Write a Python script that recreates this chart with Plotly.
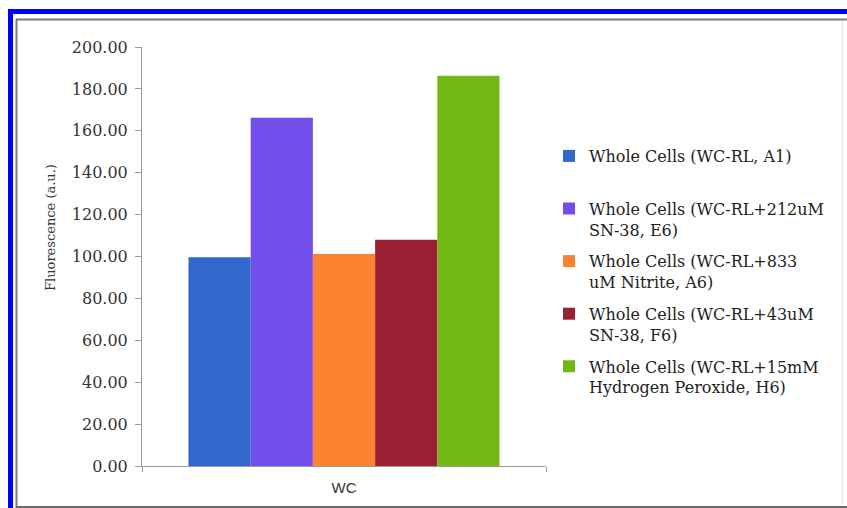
import plotly.graph_objects as go

# Chart data
categories = ["WC"]
series_names = [
    "Whole Cells (WC-RL, A1)<br> ",
    "Whole Cells (WC-RL+212uM<br>SN-38, E6)",
    "Whole Cells (WC-RL+833<br>uM Nitrite, A6)",
    "Whole Cells (WC-RL+43uM<br>SN-38, F6)",
    "Whole Cells (WC-RL+15mM<br>Hydrogen Peroxide, H6)",
]
series_values = [99.6, 166.2, 101.2, 108.0, 186.3]
series_colors = ["#3068CE", "#714EEA", "#FB832F", "#9A2134", "#72B815"]
y_tick_values = [0, 20, 40, 60, 80, 100, 120, 140, 160, 180, 200]

W, H = 847, 508
L, R, T, B = 142, 301, 47, 42
pw, ph = W - L - R, H - T - B


def px(x):
    return (x - L) / pw


def py(y):
    return (H - B - y) / ph


fig = go.Figure()
for i, (name, val, col) in enumerate(zip(series_names, series_values, series_colors)):
    fig.add_trace(go.Bar(
        x=categories, y=[val], name=name, marker=dict(color=col, line=dict(width=0)),
        legendgroup=f"g{i}",
    ))

serif = "DejaVu Serif"


def seg(x0, y0, x1, y1, color, width):
    return dict(type="line", xref="paper", yref="paper", layer="above",
                x0=px(x0), y0=py(y0), x1=px(x1), y1=py(y1),
                line=dict(color=color, width=width))


fig.update_layout(
    width=W, height=H,
    margin=dict(l=L, r=R, t=T, b=B),
    paper_bgcolor="white", plot_bgcolor="white",
    barmode="group", bargap=0.23, bargroupgap=0,
    showlegend=True,
    legend=dict(
        x=px(549), y=py(139), xanchor="left", yanchor="top",
        font=dict(family=serif, size=16, color="#222222"),
        valign="top", tracegroupgap=8, bgcolor="rgba(0,0,0,0)",
    ),
    xaxis=dict(
        showline=True, linecolor="#9a9a9a", linewidth=1,
        ticks="outside", ticklen=5, tickcolor="#9a9a9a", tickson="boundaries",
        ticklabelstandoff=8,
        tickfont=dict(family="Liberation Sans", size=15, color="#333333"),
        showgrid=False, zeroline=False,
    ),
    yaxis=dict(
        range=[0, 200], tickvals=y_tick_values, tickformat=".2f",
        showline=True, linecolor="#9a9a9a", linewidth=1,
        ticks="outside", ticklen=6, tickcolor="#9a9a9a",
        ticklabelstandoff=4,
        tickfont=dict(family=serif, size=16, color="#333333"),
        showgrid=False, zeroline=False,
    ),
    annotations=[dict(
        text="Fluorescence (a.u.)", textangle=-90, showarrow=False,
        xref="paper", yref="paper", x=px(50), y=py(228),
        xanchor="center", yanchor="middle",
        font=dict(family=serif, size=13, color="#333333"),
    )],
    shapes=[
        # outer blue frame (top and left edges)
        seg(8, 11.5, 847, 11.5, "#0000FF", 5),
        seg(10.5, 9, 10.5, 508, "#0000FF", 5),
        # inner grey frame
        seg(16, 19.5, 847, 19.5, "#7a7a7a", 2),
        seg(16.5, 19, 16.5, 508, "#7a7a7a", 2),
        seg(16, 507, 847, 507, "#6a6a6a", 2),
        seg(842.5, 21, 842.5, 506, "#f0f0f0", 2),
    ],
)

fig.write_html("out.html")
